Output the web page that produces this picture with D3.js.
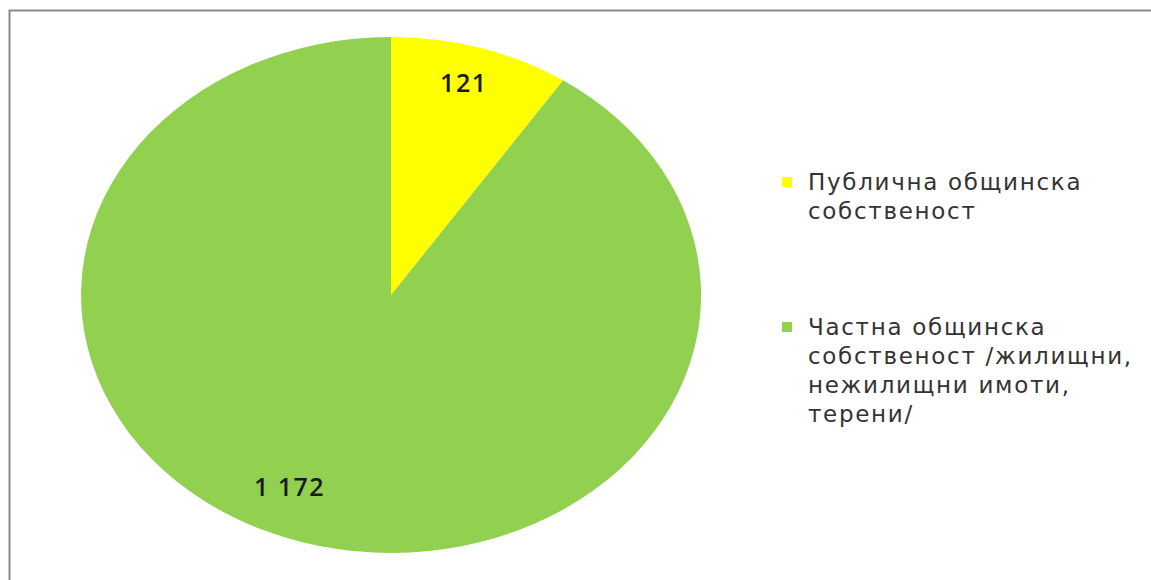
<!DOCTYPE html>
<html>
<head>
<meta charset="utf-8">
<script src="https://cdn.jsdelivr.net/npm/d3@7"></script>
<style>
  body { margin: 0; background: #fff; }
  svg { display: block; font-family: "Open Sans", sans-serif; }
</style>
</head>
<body>
<svg id="chart" width="1151" height="580"></svg>
<script>
// Données
const categories = [
  ['Публична общинска', 'собственост'],
  ['Частна общинска', 'собственост /жилищни,', 'нежилищни имоти,', 'терени/']
]
const values = [121, 1172]
const valueLabels = ['121', '1 172']
const colors = ['#FFFF00', '#92D050']

const svg = d3.select('#chart')

// Cadre du graphique (coupé à droite et en bas)
svg.append('rect')
  .attr('x', 9.5).attr('y', 10.5)
  .attr('width', 1200).attr('height', 600)
  .attr('fill', 'none').attr('stroke', '#8a8a8a').attr('stroke-width', 2)

// Camembert elliptique : on dessine un cercle puis on l'étire
const cx = 391, cy = 295, rx = 310, ry = 258
const pie = d3.pie().sort(null).value(d => d)
const arcs = pie(values)
const arc = d3.arc().innerRadius(0).outerRadius(1)

const g = svg.append('g')
  .attr('transform', 'translate(' + cx + ',' + cy + ') scale(' + rx + ',' + ry + ')')

g.selectAll('path')
  .data(arcs)
  .enter()
  .append('path')
  .attr('d', arc)
  .attr('fill', (d, i) => colors[i])

// Étiquettes des valeurs (rayon relatif + petit décalage angulaire)
const labelRadius = [0.86, 0.81]
const labelShift = [-1, 7]
function labelAngle (d, i) {
  return (d.startAngle + d.endAngle) / 2 + labelShift[i] * Math.PI / 180
}
svg.selectAll('.value-label')
  .data(arcs)
  .enter()
  .append('text')
  .attr('class', 'value-label')
  .attr('x', (d, i) => cx + Math.sin(labelAngle(d, i)) * labelRadius[i] * rx)
  .attr('y', (d, i) => cy - Math.cos(labelAngle(d, i)) * labelRadius[i] * ry)
  .attr('text-anchor', 'middle')
  .attr('dominant-baseline', 'central')
  .attr('font-size', 25)
  .attr('font-weight', 600)
  .attr('letter-spacing', 1.5)
  .attr('fill', '#1a1a1a')
  .text((d, i) => valueLabels[i])

// Légende
const legendTops = [182, 327]
const lineHeight = 29
const legend = svg.selectAll('.legend')
  .data(categories)
  .enter()
  .append('g')
  .attr('class', 'legend')
  .attr('transform', (d, i) => 'translate(782,' + legendTops[i] + ')')

legend.append('rect')
  .attr('x', 0).attr('y', -5)
  .attr('width', 10).attr('height', 10)
  .attr('fill', (d, i) => colors[i])

legend.each(function (lines) {
  const grp = d3.select(this)
  lines.forEach((l, j) => {
    grp.append('text')
      .attr('x', 26)
      .attr('y', j * lineHeight)
      .attr('dominant-baseline', 'central')
      .attr('font-family', '"DejaVu Sans", sans-serif')
      .attr('font-size', 23)
      .attr('letter-spacing', 1.7)
      .attr('fill', '#333333')
      .text(l)
  })
})
</script>
</body>
</html>
